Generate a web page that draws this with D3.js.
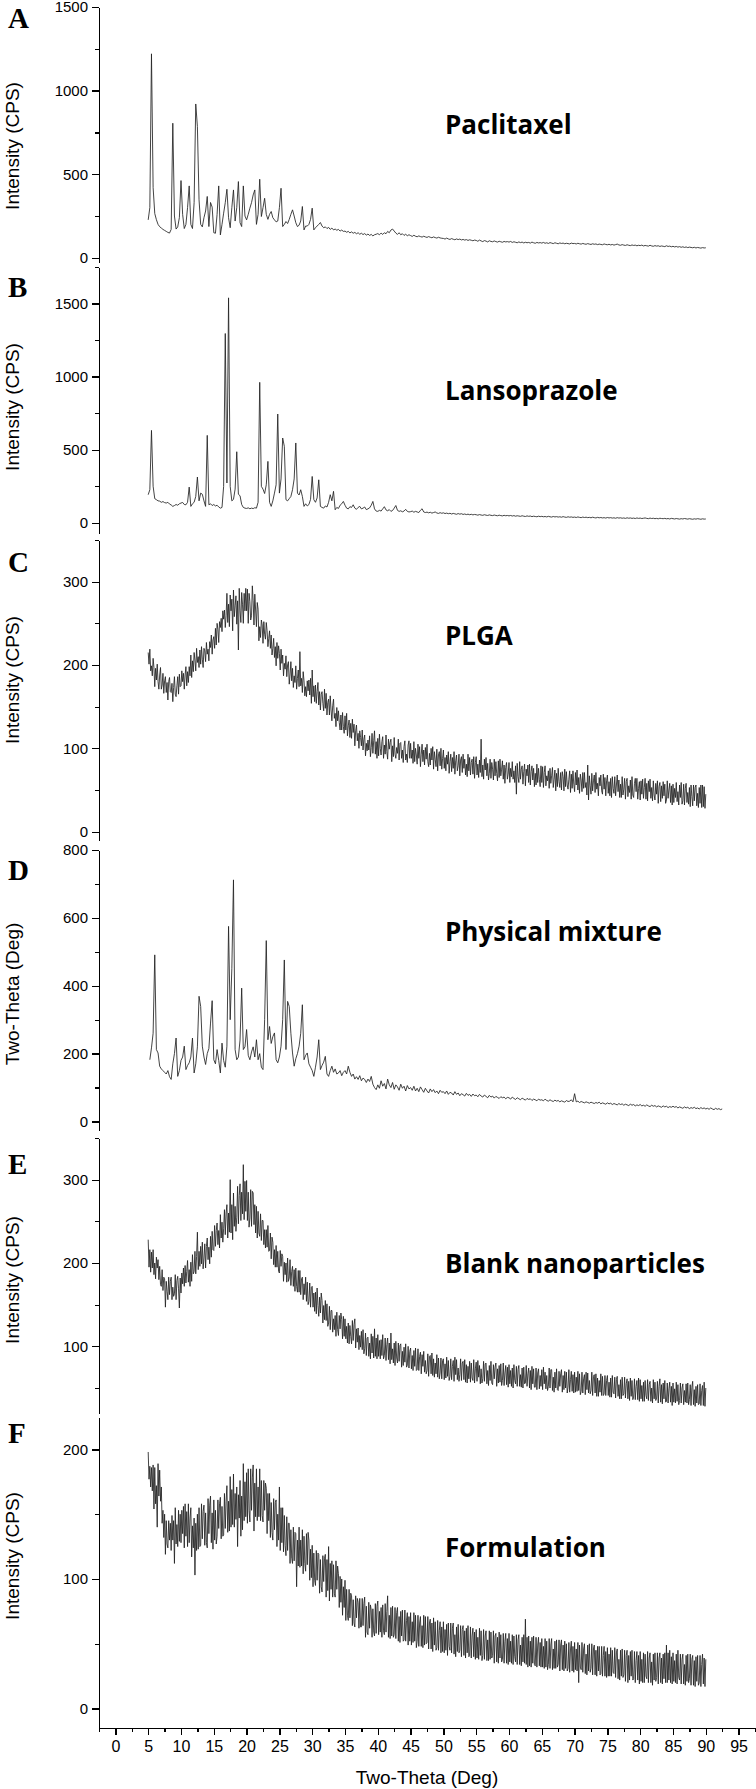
<!DOCTYPE html>
<html>
<head>
<meta charset="utf-8">
<script src="https://cdn.jsdelivr.net/npm/d3@7"></script>
<style>
  body { margin: 0; background: #fff; }
  .axis path, .axis line { stroke: #000; stroke-width: 1.3; shape-rendering: crispEdges; }
  .axis text { font-family: "Liberation Sans", Arial, sans-serif; font-size: 15px; fill: #000; }
  .xaxis text { font-size: 16px; }
  .trace { fill: none; stroke: #222; stroke-width: 0.85; stroke-linejoin: round; }
  .ytitle, .xtitle { font-family: "Liberation Sans", Arial, sans-serif; font-size: 19px; fill: #000; }
  .letter { font-family: "Liberation Serif", "Times New Roman", serif; font-weight: bold; font-size: 29px; }
  .name { font-family: "Open Sans", sans-serif; font-weight: bold; font-size: 26px; }
</style>
</head>
<body>
<svg id="chart" width="756" height="1789"></svg>
<script>
// crystalline samples are read every 0.25 deg, the amorphous (noisy) ones every 0.125 deg
var coarseStep = 0.25;
var fineStep = 0.125;
var thetaStart = 5;
var mixtureStart = 5.25;

var xTicks = [0,5,10,15,20,25,30,35,40,45,50,55,60,65,70,75,80,85,90,95];
var xMinorTicks = [-2.5,2.5,7.5,12.5,17.5,22.5,27.5,32.5,37.5,42.5,47.5,52.5,57.5,62.5,67.5,72.5,77.5,82.5,87.5,92.5,97.5];

var names = ['Paclitaxel', 'Lansoprazole', 'PLGA', 'Physical mixture', 'Blank nanoparticles', 'Formulation'];
var letters = ['A', 'B', 'C', 'D', 'E', 'F'];
var yTitles = ['Intensity (CPS)', 'Intensity (CPS)', 'Intensity (CPS)', 'Two-Theta (Deg)', 'Intensity (CPS)', 'Intensity (CPS)'];

var yDomains = [[-25, 1500], [-70, 1750], [-10, 350], [-25, 800], [20, 350], [-15, 225]];
var yMajor = [[0,500,1000,1500], [0,500,1000,1500], [0,100,200,300], [0,200,400,600,800], [100,200,300], [0,100,200]];
var yMinor = [[250,750,1250], [250,750,1250,1750], [50,150,250,350], [100,300,500,700], [50,150,250,350], [50,150]];

// Paclitaxel, 5 -> 90 deg, step 0.25
var paclitaxel = [
  227,300,1220,420,265,228,200,186,178,170,164,158,152,148,170,805,250,172,185,240,
  462,260,175,200,300,430,200,175,330,920,785,347,200,185,240,280,367,187,331,303,
  150,147,260,430,137,200,267,330,410,240,180,300,406,220,300,456,210,187,430,250,
  227,260,297,330,376,406,200,260,470,247,300,356,260,230,260,277,240,227,215,220,
  300,416,187,200,217,205,230,260,287,250,210,187,195,220,307,167,190,190,200,230,
  297,167,180,190,200,211,190,180,185,175,182,170,178,167,172,165,170,160,166,158,
  160,153,158,149,155,147,152,144,150,141,147,139,145,136,142,134,140,131,138,141,
  145,138,148,140,150,144,158,150,166,172,160,148,140,150,138,144,134,141,132,138,
  133,128,135,129,126,131,127,124,129,125,122,127,123,120,125,121,118,123,119,117,
  116,112,118,113,110,115,111,108,113,109,112,107,110,106,109,104,108,105,102,106,
  104,99,106,101,97,103,100,95,102,98,96,101,97,94,99,96,93,98,95,97,
  94,98,92,96,93,90,95,91,94,89,93,90,92,88,94,90,87,92,89,91,
  88,92,87,90,86,91,88,85,90,87,84,89,86,88,84,87,85,83,88,85,
  86,83,87,84,82,86,83,81,85,82,80,84,81,83,79,82,80,78,83,80,
  78,81,77,80,76,79,82,77,75,79,76,74,78,75,73,77,74,76,72,75,
  73,76,71,74,72,70,75,71,69,73,70,72,68,71,69,67,72,68,70,66,
  69,65,68,64,67,63,66,62,65,61,64,62,60,63,59,62,60,58,61,59,
  60
];

// Lansoprazole, 5 -> 90 deg, step 0.25
var lansoprazole = [
  192,226,632,250,165,158,150,148,140,145,138,135,140,128,122,112,118,125,120,130,
  135,139,125,123,140,244,112,130,140,180,313,150,203,195,150,112,598,123,130,118,
  125,115,120,108,100,105,249,1295,272,1539,249,150,160,230,486,195,185,125,105,100,
  98,102,96,100,97,103,100,140,961,249,230,200,260,420,140,112,150,203,260,744,
  203,300,580,523,158,150,165,180,226,300,546,203,190,226,180,112,130,115,125,160,
  317,158,140,170,294,112,105,100,115,108,140,192,150,215,89,105,98,120,130,146,
  120,100,95,110,105,123,100,92,105,112,95,100,108,90,95,102,120,146,95,80,
  78,85,80,95,110,88,82,90,78,84,100,118,85,78,82,75,80,92,78,74,
  76,80,72,78,74,70,85,96,74,70,73,68,72,66,70,74,67,64,69,65,
  68,63,66,62,65,60,64,61,58,63,59,62,57,60,56,59,55,58,54,57,
  55,52,56,53,51,55,52,50,54,51,49,53,50,48,52,49,47,51,48,50,
  47,50,46,49,45,48,46,44,48,45,43,47,44,46,42,45,43,41,45,42,
  44,41,43,40,44,41,39,43,40,42,39,41,38,42,39,37,41,38,40,37,
  39,36,40,37,35,39,36,38,35,37,34,38,35,33,37,34,36,33,35,32,
  36,33,35,32,34,31,35,32,34,31,33,30,34,31,33,30,32,29,33,30,
  32,29,31,33,30,28,32,29,31,28,30,27,31,29,28,30,27,29,26,30,
  28,26,29,27,25,28,26,29,27,25,28,26,24,27,25,28,26,24,27,25,
  26
];

// PLGA, 5 -> 90 deg, step 0.125
var plga = [
  215,201,219,193,199,187,208,197,174,196,182,201,180,171,188,197,171,176,190,166,181,186,167,179,158,180,185,168,167,178,156,173,186,165,162,175,186,165,189,174,
  175,193,180,190,171,188,198,175,192,179,198,187,212,185,205,192,215,206,193,220,203,210,197,218,201,222,207,197,220,217,204,227,213,219,205,228,221,236,213,230,
  234,220,244,224,250,243,227,252,245,256,240,265,255,266,245,259,286,251,273,246,284,265,279,241,290,258,271,283,249,277,218,292,265,251,287,273,250,286,265,292,
  265,291,250,286,276,254,259,295,277,248,285,266,246,275,267,229,246,233,254,248,226,252,237,231,251,241,222,232,241,220,236,212,220,232,209,222,199,227,208,223,
  214,194,219,202,212,187,202,195,211,186,200,204,177,188,204,181,196,173,187,179,199,171,184,194,174,216,175,184,167,192,181,163,174,162,181,169,182,164,184,154,
  194,162,175,156,176,154,168,179,152,168,146,165,168,154,145,171,148,166,140,155,159,140,163,146,133,151,159,136,142,126,149,133,145,131,122,140,122,143,126,118,
  139,122,142,115,127,134,113,130,112,135,119,129,103,121,128,109,118,100,121,113,103,122,98,111,116,91,106,97,110,98,115,90,101,118,94,109,121,93,108,88,
  112,91,117,100,92,108,114,88,104,93,116,96,87,111,99,107,111,84,103,90,113,93,88,101,94,111,86,106,107,88,98,83,102,109,86,93,83,104,109,88,
  106,88,98,82,108,84,100,92,81,105,88,102,78,93,105,84,98,80,101,87,105,84,78,94,80,100,86,102,75,96,87,78,99,73,92,96,79,100,75,88,
  98,76,89,73,92,81,96,70,84,93,72,89,76,96,69,85,92,73,79,93,67,86,90,71,93,76,87,68,81,66,93,73,89,68,83,87,69,90,64,83,
  90,68,81,65,86,71,111,66,80,63,87,74,89,67,82,62,70,87,64,83,75,62,87,67,84,70,61,85,65,87,67,75,85,63,80,58,77,83,63,69,
  83,59,76,66,84,63,73,59,79,45,82,66,59,84,63,75,79,57,72,81,55,75,67,80,59,81,56,72,79,62,76,54,70,56,81,59,76,63,54,79,
  59,78,53,71,79,55,67,61,73,52,76,58,67,77,53,63,74,49,70,54,76,60,53,71,50,72,66,49,75,54,72,56,51,63,73,47,69,52,73,57,
  48,71,56,74,50,65,46,69,62,48,71,52,71,53,59,44,80,38,67,55,45,70,49,61,68,47,71,51,58,43,65,55,68,49,45,69,51,65,43,61,
  68,46,60,43,64,41,66,52,46,66,43,56,68,48,62,41,57,41,66,44,51,64,39,60,64,42,55,47,62,39,66,44,41,58,64,48,64,39,52,60,
  38,61,45,63,40,53,64,39,58,37,61,48,63,40,53,37,61,44,38,58,45,61,34,54,59,36,55,40,60,43,57,34,38,61,40,50,58,35,55,32,
  57,35,52,41,59,36,48,32,56,41,59,33,37,57,32,52,58,35,47,33,53,30,56,42,31,56,37,53,56,31,46,29,53,34,56,29,56,30,54,28,
  45
];

// Physical mixture, 5.25 -> 92.5 deg, step 0.25
var mixture = [
  182,217,260,491,212,202,163,155,150,145,140,150,132,124,170,200,246,133,150,
  180,190,222,153,165,173,190,246,143,170,220,369,339,222,190,168,200,215,290,356,
  182,170,212,180,143,231,180,160,222,575,300,450,712,212,182,190,240,393,212,220,
  271,195,182,205,220,190,241,182,200,160,153,300,533,241,280,230,250,261,182,173,
  190,222,300,476,212,354,339,260,202,163,185,200,222,260,344,182,195,202,170,160,
  150,133,160,190,241,153,165,175,192,140,133,150,163,145,155,140,143,150,135,145,
  150,140,163,145,133,140,125,132,124,135,120,128,124,115,125,118,133,110,100,94,
  108,98,120,104,112,96,125,108,100,115,95,108,102,92,110,98,104,90,106,96,
  100,92,104,90,98,88,102,94,86,98,90,84,96,88,94,85,90,82,92,86,
  88,82,90,80,86,84,78,88,80,84,76,82,79,75,83,77,80,74,81,76,
  78,73,80,75,72,78,74,70,77,72,75,69,74,71,68,73,70,72,67,71,
  70,66,72,68,65,70,67,64,69,66,63,68,65,67,62,66,64,61,66,63,
  64,61,66,62,60,64,61,59,63,60,62,58,61,59,57,62,59,60,64,58,
  82,58,60,56,59,57,55,58,56,54,57,55,53,56,54,57,52,55,53,51,
  55,52,54,50,53,51,49,53,50,52,48,51,49,47,51,48,50,46,49,47,
  50,46,48,45,49,46,44,48,45,47,43,46,44,42,46,43,45,41,44,42,
  45,42,44,40,43,41,39,43,40,42,38,41,39,42,38,40,37,41,38,40,
  37,39,36,40,37,35,39,36,38,35,37
];

// Blank nanoparticles, 5 -> 90 deg, step 0.125
var blank = [
  228,195,216,189,213,194,216,186,200,181,207,194,204,180,196,174,172,192,167,183,181,147,178,166,156,183,162,178,183,156,171,160,163,186,156,179,184,169,146,182,
  164,188,175,194,172,197,176,190,203,177,192,172,201,178,210,187,190,214,187,208,237,192,214,196,220,199,225,193,206,223,194,220,230,204,219,199,232,207,238,216,
  215,245,220,239,248,222,239,218,258,230,249,225,241,264,234,260,270,230,260,237,300,236,270,228,284,244,268,238,255,292,247,281,295,251,285,259,318,252,298,262,
  299,251,285,243,254,288,244,286,284,246,270,236,268,230,262,236,232,259,227,251,251,222,240,218,240,219,245,214,215,236,205,231,225,198,216,195,221,195,214,190,
  188,215,196,211,208,178,201,186,200,177,206,178,182,204,173,190,196,172,192,166,194,172,165,191,165,191,162,181,183,156,175,162,183,154,177,150,154,176,147,171,
  172,147,164,142,165,139,170,149,136,159,140,164,155,128,149,132,155,131,151,124,128,148,120,143,143,117,133,120,137,112,141,120,113,137,121,140,132,109,136,112,
  133,109,124,104,128,103,125,112,103,131,107,126,133,98,121,105,122,96,113,99,118,96,120,91,97,116,89,110,111,88,104,85,115,92,112,86,121,88,110,85,
  114,88,107,85,108,89,114,85,89,110,83,102,110,84,104,79,116,84,97,80,104,77,106,86,80,104,82,101,103,75,94,77,99,81,103,75,77,100,74,94,
  98,73,89,71,95,76,98,71,72,97,71,88,93,67,90,76,94,69,83,67,71,91,64,88,89,67,92,65,85,63,80,67,90,63,86,61,68,86,61,83,
  85,60,79,62,87,64,83,59,64,85,60,76,83,58,87,66,84,60,74,58,66,85,59,80,82,60,84,57,78,56,76,61,82,57,80,62,59,84,56,73,
  81,58,83,63,77,55,73,56,61,82,58,79,80,55,71,53,77,59,82,56,54,78,61,75,80,52,73,56,77,57,79,53,59,80,53,68,77,54,75,51,
  78,55,71,52,74,50,78,59,55,76,52,72,77,52,66,51,74,50,75,55,56,77,52,67,74,50,71,48,76,55,73,51,51,74,48,68,73,49,65,52,
  72,48,75,55,69,49,65,47,52,74,50,72,72,47,63,45,69,50,73,48,47,70,52,67,72,45,65,48,70,50,69,44,51,72,45,60,70,46,66,44,
  69,45,63,46,70,47,67,42,46,69,44,61,66,42,69,48,68,44,59,43,47,69,41,64,66,44,67,40,62,40,59,45,67,41,64,41,43,65,41,59,
  65,41,57,39,62,39,65,45,43,63,38,60,64,40,54,37,60,37,63,41,43,63,38,55,61,37,58,35,62,40,59,36,39,61,36,52,59,36,62,34,
  60,37,53,34,57,34,59,41,37,60,35,54,58,34,50,32,60,37,57,35,38,58,32,52,61,33,54,31,56,37,59,33,34,56,32,49,57,33,52,29,
  56,33,49,32,57,34,54,30,35,56,32,50,55,30,47,33,55,32,56,30,36,54,29,51,58,30,48,28,52,32,54,30,31,55,29,47,53,29,57,28,
  50
];

// Formulation, 5 -> 90 deg, step 0.125
var formulation = [
  198,177,187,171,186,168,188,154,186,158,172,140,189,164,184,160,171,143,153,132,150,119,145,127,124,145,130,143,122,149,130,145,112,155,127,142,125,153,129,150,
  128,153,135,156,124,158,133,152,125,158,128,147,155,117,141,124,147,103,143,122,150,123,155,125,126,158,131,152,157,126,151,128,124,162,135,157,164,128,151,123,
  161,130,153,127,133,161,139,158,163,131,156,133,134,166,139,160,172,136,160,137,179,140,169,142,181,140,166,146,171,125,165,147,176,133,164,138,189,145,175,148,
  182,143,185,153,144,185,153,178,188,137,174,148,185,145,171,148,185,145,176,149,144,176,153,174,170,135,166,145,166,132,159,136,130,162,138,159,161,125,150,130,
  171,122,155,128,155,121,149,126,118,148,122,143,143,112,138,116,112,140,114,136,135,94,130,110,140,109,130,110,138,104,133,112,106,135,111,136,130,99,123,101,
  126,94,120,99,95,122,99,120,119,89,115,94,90,118,98,116,119,86,115,91,125,83,112,92,114,86,111,89,86,114,92,110,104,78,102,82,100,72,94,78,
  99,68,92,72,68,92,70,89,87,64,84,66,63,87,70,85,82,62,85,63,63,85,64,81,86,55,79,59,57,82,62,80,76,55,77,59,56,81,58,79,
  83,57,75,59,78,55,80,60,57,81,59,75,87,55,72,54,78,56,79,55,57,78,54,74,78,52,71,51,75,56,76,52,53,76,52,68,74,49,71,52,
  74,49,67,51,74,52,72,47,52,72,48,66,71,48,64,47,72,49,71,50,51,71,46,66,69,46,66,44,70,49,67,45,47,68,45,60,67,43,63,44,
  67,43,61,45,65,41,66,48,45,66,43,62,66,42,57,40,63,44,65,43,45,64,40,61,64,41,60,39,62,43,64,40,41,63,39,56,62,40,59,38,
  61,39,55,38,62,41,60,37,41,61,38,56,60,37,53,37,60,38,59,39,41,60,35,56,58,36,55,35,59,39,57,36,38,58,35,52,58,35,54,34,
  58,36,52,35,57,34,56,40,36,57,34,53,57,34,49,33,55,36,57,35,69,34,55,32,56,33,52,32,55,35,56,34,33,55,32,49,55,33,51,32,
  54,32,48,31,54,32,52,30,34,54,31,49,54,30,46,31,52,31,53,32,34,53,29,49,53,30,49,29,52,31,50,29,31,51,28,46,52,29,48,28,
  51,30,46,29,51,20,49,32,30,51,28,46,50,27,42,26,49,29,50,28,31,50,26,46,49,26,45,25,48,29,48,26,27,48,25,41,48,25,44,24,
  47,25,42,25,47,25,45,28,27,47,24,43,46,23,38,22,45,25,46,24,26,45,21,41,45,20,41,22,44,25,45,22,23,44,20,37,44,22,41,19,
  44,21,38,20,43,20,42,25,23,44,20,39,43,20,36,18,42,22,43,21,24,43,19,39,43,20,39,19,42,23,43,20,49,20,43,22,45,20,40,19,
  43,21,37,20,42,19,45,24,22,42,19,38,42,19,34,18,41,21,42,20,23,42,18,38,41,18,37,17,40,21,41,18,20,41,17,34,42,19,39,17,
  38
];

var series = [paclitaxel, lansoprazole, plga, mixture, blank, formulation];
var starts = [thetaStart, thetaStart, thetaStart, mixtureStart, thetaStart, thetaStart];
var steps = [coarseStep, coarseStep, fineStep, coarseStep, fineStep, fineStep];

// page layout (pixels) for the six stacked panels
var axisX = 99;
var panelTop    = [7, 267, 540, 850, 1138, 1417];
var panelBottom = [262, 533, 840, 1130, 1413, 1728];
var letterY = [28, 297, 572, 880, 1174, 1443];
var nameY   = [134, 400, 645, 941, 1273, 1557];
var titleY  = [146, 407, 680, 994, 1280, 1556];

var svg = d3.select('#chart');
var x = d3.scaleLinear().domain([-2.5, 97.5]).range([axisX, 755]);

series.forEach(function(values, k) {
  var y = d3.scaleLinear().domain(yDomains[k]).range([panelBottom[k], panelTop[k]]);
  var g = svg.append('g').attr('class', 'panel');

  g.append('g').attr('class', 'axis')
    .attr('transform', 'translate(' + axisX + ',0)')
    .call(d3.axisLeft(y).tickValues(yMinor[k]).tickSize(4).tickSizeOuter(0).tickFormat(''));
  g.append('g').attr('class', 'axis')
    .attr('transform', 'translate(' + axisX + ',0)')
    .call(d3.axisLeft(y).tickValues(yMajor[k]).tickSize(7).tickSizeOuter(0).tickPadding(4).tickFormat(d3.format('d')));

  var line = d3.line()
    .x(function(d, i) { return x(starts[k] + i * steps[k]); })
    .y(function(d) { return y(d); });

  g.append('path').datum(values).attr('class', 'trace').attr('d', line);

  g.append('text').attr('class', 'letter').attr('x', 8).attr('y', letterY[k]).text(letters[k]);
  g.append('text').attr('class', 'name').attr('x', 445).attr('y', nameY[k]).text(names[k]);
  g.append('text').attr('class', 'ytitle')
    .attr('text-anchor', 'middle')
    .attr('transform', 'translate(19,' + titleY[k] + ') rotate(-90)')
    .text(yTitles[k]);
});

// shared 2-theta axis under the last panel
var xBase = panelBottom[panelBottom.length - 1];
svg.append('g').attr('class', 'axis xaxis')
  .attr('transform', 'translate(0,' + xBase + ')')
  .call(d3.axisBottom(x).tickValues(xMinorTicks).tickSize(4).tickSizeOuter(0).tickFormat(''));
svg.append('g').attr('class', 'axis xaxis')
  .attr('transform', 'translate(0,' + xBase + ')')
  .call(d3.axisBottom(x).tickValues(xTicks).tickSize(7).tickSizeOuter(0).tickPadding(6));

svg.append('text').attr('class', 'xtitle')
  .attr('text-anchor', 'middle')
  .attr('x', 427).attr('y', 1784)
  .text('Two-Theta (Deg)');
</script>
</body>
</html>
